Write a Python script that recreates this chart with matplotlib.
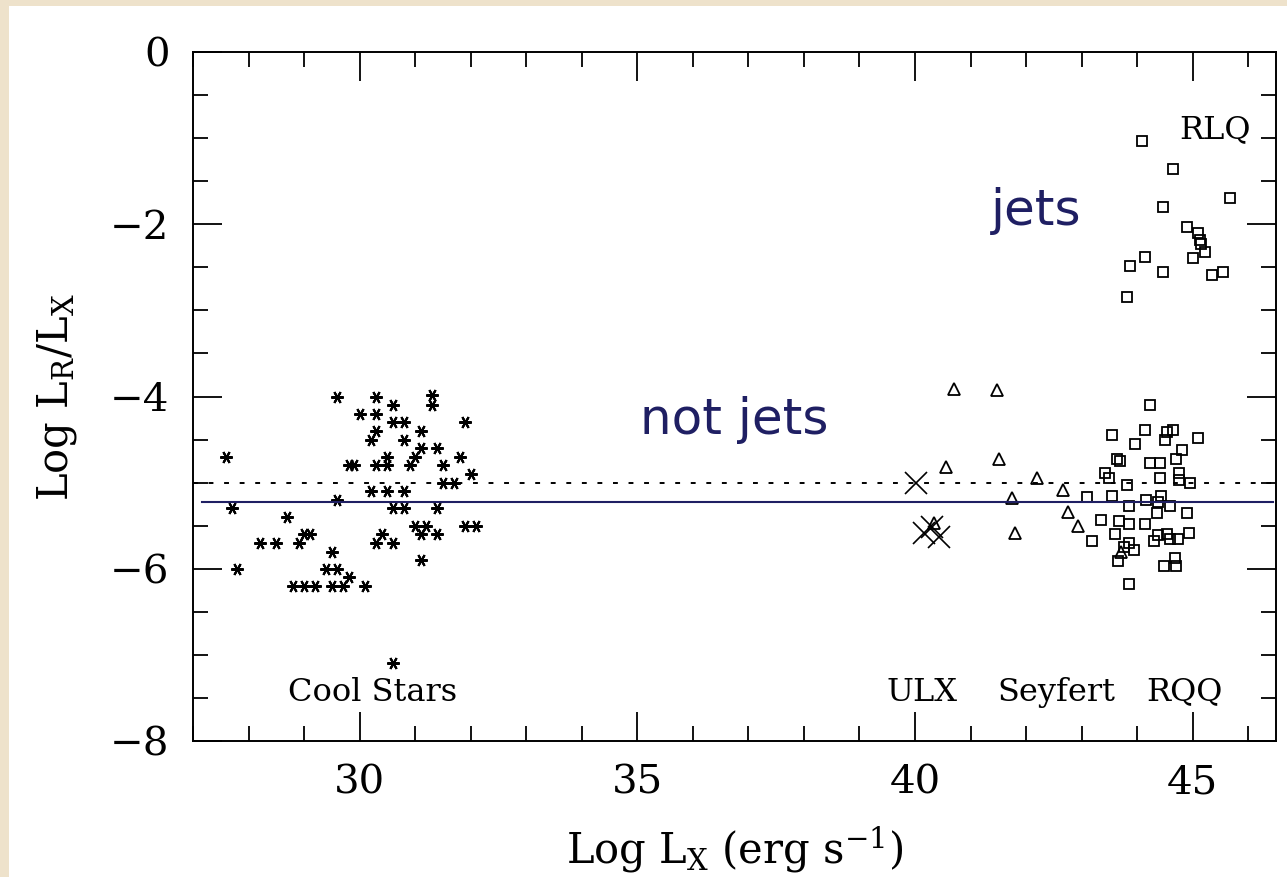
import matplotlib
matplotlib.use("Agg")
import matplotlib.pyplot as plt
from matplotlib.patches import Rectangle
from matplotlib.ticker import MultipleLocator

plt.rcParams["mathtext.fontset"] = "dejavuserif"

# Cool stars (asterisks)
cool_x = [29.6, 30.3, 31.3, 31.3, 30.6, 30.0, 30.3, 30.6, 30.8, 31.9,
          30.3, 31.1, 30.2, 30.8, 31.1, 31.4, 30.5, 31.0, 31.8, 27.6,
          29.8, 29.9, 30.3, 30.5, 30.9, 31.5, 32.0, 31.5, 31.7, 30.2,
          30.5, 30.8, 29.6, 27.7, 30.6, 30.8, 31.4, 28.7, 31.0, 31.2,
          31.9, 32.1, 29.0, 29.1, 30.4, 31.1, 31.4, 28.2, 28.5, 28.9,
          30.3, 30.6, 29.5, 31.1, 27.8, 29.4, 29.6, 29.8, 28.8, 29.0,
          29.2, 29.5, 29.7, 30.1, 30.6]
cool_y = [-4.0, -4.0, -3.98, -4.1, -4.1, -4.2, -4.2, -4.3, -4.3, -4.3,
          -4.4, -4.4, -4.5, -4.5, -4.6, -4.6, -4.7, -4.7, -4.7, -4.7,
          -4.8, -4.8, -4.8, -4.8, -4.8, -4.8, -4.9, -5.0, -5.0, -5.1,
          -5.1, -5.1, -5.2, -5.3, -5.3, -5.3, -5.3, -5.4, -5.5, -5.5,
          -5.5, -5.5, -5.6, -5.6, -5.6, -5.6, -5.6, -5.7, -5.7, -5.7,
          -5.7, -5.7, -5.8, -5.9, -6.0, -6.0, -6.0, -6.1, -6.2, -6.2,
          -6.2, -6.2, -6.2, -6.2, -7.1]

# Ultraluminous X-ray sources (crosses)
ulx_x = [40.02, 40.17, 40.30, 40.44]
ulx_y = [-5.01, -5.58, -5.52, -5.63]

# Seyfert galaxies (triangles)
sey_x = [40.70, 41.47, 41.52, 40.56, 42.19, 42.67, 41.75, 42.75, 42.93, 41.80, 40.35, 43.71]
sey_y = [-3.91, -3.93, -4.72, -4.82, -4.95, -5.09, -5.18, -5.34, -5.50, -5.58, -5.47, -5.80]

# Radio-quiet quasars (squares)
rqq_x = [44.23, 43.54, 44.14, 44.53, 44.65, 45.09, 43.96, 44.50, 44.80, 43.63,
         43.69, 44.23, 44.41, 44.70, 43.42, 44.76, 43.50, 44.41, 44.76, 44.96,
         43.81, 43.09, 43.54, 44.16, 44.43, 44.37, 43.86, 44.59, 44.35, 44.89,
         43.35, 43.68, 43.86, 44.15, 43.60, 44.37, 44.53, 44.93, 43.18, 44.30,
         44.59, 44.73, 43.86, 43.77, 43.94, 43.66, 44.68, 44.48, 44.70, 43.86]
rqq_y = [-4.10, -4.45, -4.39, -4.41, -4.39, -4.48, -4.55, -4.51, -4.62, -4.72,
         -4.75, -4.77, -4.77, -4.73, -4.89, -4.89, -4.95, -4.95, -4.97, -5.00,
         -5.03, -5.17, -5.16, -5.20, -5.16, -5.22, -5.27, -5.27, -5.35, -5.35,
         -5.43, -5.44, -5.48, -5.48, -5.60, -5.61, -5.60, -5.58, -5.68, -5.68,
         -5.66, -5.65, -5.70, -5.75, -5.78, -5.91, -5.88, -5.97, -5.97, -6.18]

# Radio-loud quasars (squares)
rlq_x = [44.08, 44.64, 45.67, 44.47, 44.89, 45.09, 45.13, 45.15, 45.23, 45.01,
         44.14, 43.87, 44.47, 45.35, 45.54, 43.81]
rlq_y = [-1.03, -1.36, -1.69, -1.80, -2.03, -2.10, -2.18, -2.23, -2.32, -2.39,
         -2.38, -2.49, -2.55, -2.59, -2.56, -2.84]

# Class labels: (text, x, y)
class_labels = [("Cool Stars", 30.23, -7.53), ("ULX", 40.12, -7.53),
                ("Seyfert", 42.54, -7.53), ("RQQ", 44.85, -7.53),
                ("RLQ", 45.40, -1.0)]

dotted_level = -5.0
fit_level = -5.23

SERIF = "DejaVu Serif"
NAVY = "#1f1f63"

fig = plt.figure(figsize=(12.87, 8.77), dpi=100)
fig.patch.set_facecolor("#eee2cb")
panel = Rectangle((9 / 1287, 0), 1 - 9 / 1287, 1 - 6 / 877,
                  transform=fig.transFigure, facecolor="white",
                  edgecolor="none", zorder=-10)
fig.add_artist(panel)

ax = fig.add_axes([193 / 1287, 1 - 741 / 877, 1083 / 1287, 689 / 877])
ax.set_zorder(5)
ax.set_facecolor("white")
ax.set_xlim(27, 46.5)
ax.set_ylim(-8, 0)

ax.axhline(dotted_level, color="black", lw=1.4, ls=(0, (2.5, 5.5)), zorder=1)
ax.axhline(fit_level, xmin=0.008, xmax=0.997, color=NAVY, lw=1.5, zorder=4)

ax.plot(cool_x, cool_y, ls="none", marker=(6, 2, 90), ms=9, mew=1.5,
        color="black", zorder=3)
ax.plot(ulx_x, ulx_y, ls="none", marker="x", ms=16, mew=1.2,
        color="black", zorder=3)
ax.plot(sey_x, sey_y, ls="none", marker="^", ms=8, mew=1.3,
        mfc="none", mec="black", zorder=3)
ax.plot(rqq_x, rqq_y, ls="none", marker="s", ms=6.8, mew=1.3,
        mfc="none", mec="black", zorder=3)
ax.plot(rlq_x, rlq_y, ls="none", marker="s", ms=6.8, mew=1.3,
        mfc="none", mec="black", zorder=3)

for text, x, y in class_labels:
    ax.text(x, y, text, ha="center", va="baseline", fontsize=23,
            family=SERIF, color="black")

ax.text(42.18, -2.01, "jets", ha="center", va="baseline", fontsize=36,
        color=NAVY)
ax.text(36.75, -4.43, "not jets", ha="center", va="baseline", fontsize=36,
        color=NAVY)

ax.xaxis.set_major_locator(MultipleLocator(5))
ax.xaxis.set_minor_locator(MultipleLocator(1))
ax.yaxis.set_major_locator(MultipleLocator(2))
ax.yaxis.set_minor_locator(MultipleLocator(0.5))
ax.tick_params(which="both", direction="in", top=True, right=True,
               color="black", width=1.3)
ax.tick_params(which="major", length=21, labelsize=29, pad=17)
ax.tick_params(which="minor", length=10.5)
for lab in ax.get_xticklabels() + ax.get_yticklabels():
    lab.set_family(SERIF)
for sp in ax.spines.values():
    sp.set_linewidth(1.4)

ax.set_xlabel(r"Log L$_{\rm X}$ (erg s$^{-1}$)", fontsize=30, family=SERIF,
              labelpad=16)
ax.set_ylabel(r"Log L$_{\rm R}$/L$_{\rm X}$", fontsize=30, family=SERIF,
              labelpad=22)

fig.savefig("out.png", dpi=100, facecolor=fig.get_facecolor())
